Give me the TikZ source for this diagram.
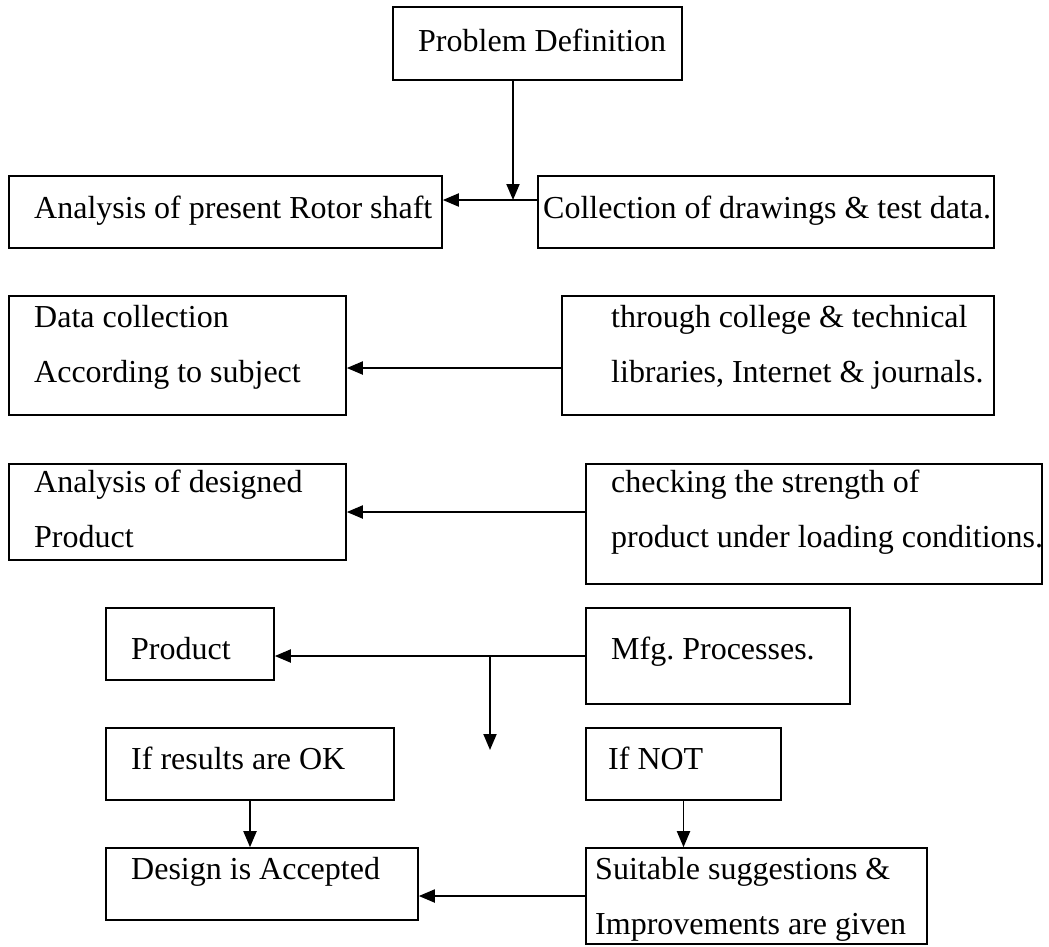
\documentclass[tikz,border=0pt]{standalone}
\usepackage{fontspec}
\setmainfont{Liberation Serif}
\usetikzlibrary{arrows.meta}
\frenchspacing
\begin{document}
\begin{tikzpicture}[x=1pt,y=-1pt,
  box/.style={draw, line width=1.6pt, rectangle, inner sep=0pt},
  txt/.style={anchor=base west, inner sep=0pt, font=\fontsize{32}{38}\selectfont},
  arr/.style={-{Triangle[length=16pt,width=13pt]}, line width=1.9pt},
  ln/.style={line width=1.9pt}]
\useasboundingbox (0,0) rectangle (1049,946);
% boxes
\node[box, minimum width=289pt, minimum height=73pt] (pd) at (537.5,43.5) {};
\node[box, minimum width=433pt, minimum height=72pt] (ana) at (225.5,212) {};
\node[box, minimum width=456pt, minimum height=72pt] (coll) at (766,212) {};
\node[box, minimum width=337pt, minimum height=119pt] (dc) at (177.5,355.5) {};
\node[box, minimum width=432pt, minimum height=119pt] (thr) at (778,355.5) {};
\node[box, minimum width=337pt, minimum height=96pt] (ad) at (177.5,512) {};
\node[box, minimum width=456pt, minimum height=120pt] (chk) at (814,524) {};
\node[box, minimum width=168pt, minimum height=72pt] (prod) at (190,644) {};
\node[box, minimum width=264pt, minimum height=96pt] (mfg) at (718,656) {};
\node[box, minimum width=288pt, minimum height=72pt] (ok) at (250,764) {};
\node[box, minimum width=195pt, minimum height=72pt] (nt) at (683.5,764) {};
\node[box, minimum width=312pt, minimum height=72pt] (des) at (262,884) {};
\node[box, minimum width=341pt, minimum height=96pt] (sug) at (756.5,896) {};
% texts
\node[txt] (t-pd) at (418,51) {Problem Definition};
\node[txt] (t-ana) at (34,218) {Analysis of present Rotor shaft};
\node[txt] (t-coll) at (543,218) {Collection of drawings \& test data.};
\node[txt] (t-dc1) at (34,327) {Data collection};
\node[txt] (t-dc2) at (34,382) {According to subject};
\node[txt] (t-thr1) at (611,327) {through college \& technical};
\node[txt] (t-thr2) at (611,382) {libraries, Internet \& journals.};
\node[txt] (t-ad1) at (34,492) {Analysis of designed};
\node[txt] (t-ad2) at (34,547) {Product};
\node[txt] (t-chk1) at (611,492) {checking the strength of};
\node[txt] (t-chk2) at (611,547) {product under loading conditions.};
\node[txt] (t-prod) at (131,659) {Product};
\node[txt] (t-mfg) at (611,659) {Mfg. Processes.};
\node[txt] (t-ok) at (131,769) {If results are OK};
\node[txt] (t-nt) at (608,769) {If NOT};
\node[txt] (t-des) at (131,879) {Design is Accepted};
\node[txt] (t-sug1) at (595,879) {Suitable suggestions \&};
\node[txt] (t-sug2) at (595,934) {Improvements are given};
% connectors
\coordinate (j1) at (513,200);
\draw[arr] (pd.south -| j1) -- (j1);
\draw[arr] (coll.west |- j1) -- (ana.east |- j1);
\coordinate (a2) at (454,368);
\draw[arr] (thr.west |- a2) -- (dc.east |- a2);
\draw[arr] (chk.west |- ad.east) -- (ad.east);
\draw[arr] (mfg.west) -- (prod.east |- mfg.west);
\coordinate (j2) at (490,656);
\coordinate (e2) at (490,750);
\draw[arr] (j2) -- (e2);
\draw[arr] (ok.south) -- (ok.south |- des.north);
\draw[arr] (nt.south) -- (nt.south |- sug.north);
\draw[arr] (sug.west) -- (des.east |- sug.west);
\end{tikzpicture}
\end{document}
